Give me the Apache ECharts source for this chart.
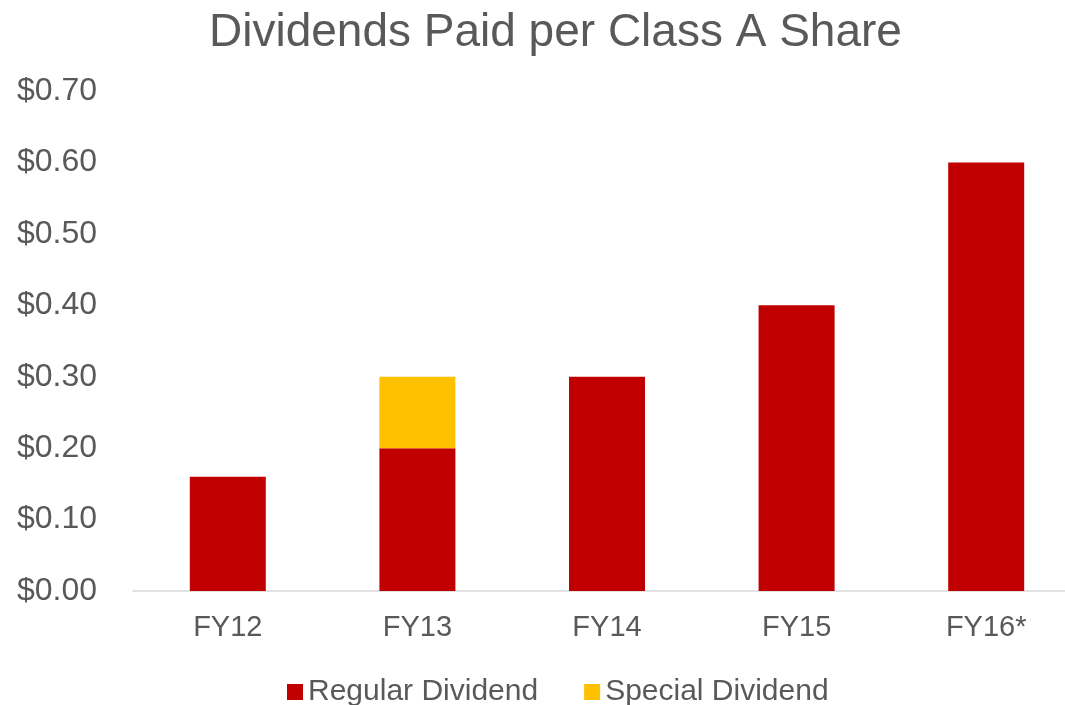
<!DOCTYPE html>
<html>
<head>
<meta charset="utf-8">
<script src="https://cdn.jsdelivr.net/npm/echarts@6/dist/echarts.min.js"></script>
<style>
  html, body { margin: 0; padding: 0; background: #fff; overflow: hidden; }
  #main { width: 1081px; height: 705px; }
</style>
</head>
<body>
<div id="main"></div>
<script>
// 数据
var categories = ['FY12', 'FY13', 'FY14', 'FY15', 'FY16*'];
var regularDividend = [0.16, 0.20, 0.30, 0.40, 0.60];
var specialDividend = ['-', 0.10, '-', '-', '-'];
var yTicks = [0, 0.1, 0.2, 0.3, 0.4, 0.5, 0.6, 0.7];

var textColor = '#595959';
var fontFam = '"Liberation Sans", Arial, sans-serif';

// 图表比窗口略宽，右侧被裁掉一截
var chartObj = echarts.init(document.getElementById('main'));

var chartOpt = {
    animation: false,
    title: {
        text: 'Dividends Paid per Class A Share',
        left: 209,
        top: 10,
        padding: 0,
        textStyle: { color: textColor, fontSize: 46, fontWeight: 'normal', fontFamily: fontFam }
    },
    legend: {
        left: 282,
        top: 672,
        icon: 'rect',
        itemWidth: 16,
        itemHeight: 16,
        itemGap: 46,
        textStyle: { color: textColor, fontSize: 30, fontFamily: fontFam },
        data: ['Regular Dividend', 'Special Dividend']
    },
    grid: { left: 133, right: 0, top: 91, bottom: 114, containLabel: false },
    xAxis: {
        type: 'category',
        data: categories,
        axisTick: { show: false },
        axisLine: { lineStyle: { color: '#D9D9D9', width: 1.5 } },
        axisLabel: { color: textColor, fontSize: 29, fontFamily: fontFam, margin: 22 }
    },
    yAxis: {
        type: 'value',
        min: yTicks[0],
        max: yTicks[yTicks.length - 1],
        interval: 0.1,
        splitLine: { show: false },
        axisLine: { show: false },
        axisTick: { show: false },
        axisLabel: {
            color: textColor, fontSize: 32, fontFamily: fontFam, margin: 36,
            formatter: function (v) { return '$' + v.toFixed(2); }
        }
    },
    series: [
        {
            name: 'Regular Dividend',
            type: 'bar',
            stack: 'div',
            barWidth: 76,
            itemStyle: { color: '#C00000' },
            data: regularDividend
        },
        {
            name: 'Special Dividend',
            type: 'bar',
            stack: 'div',
            barWidth: 76,
            itemStyle: { color: '#FFC000' },
            data: specialDividend
        }
    ]
};

chartObj.setOption(chartOpt);
</script>
</body>
</html>
